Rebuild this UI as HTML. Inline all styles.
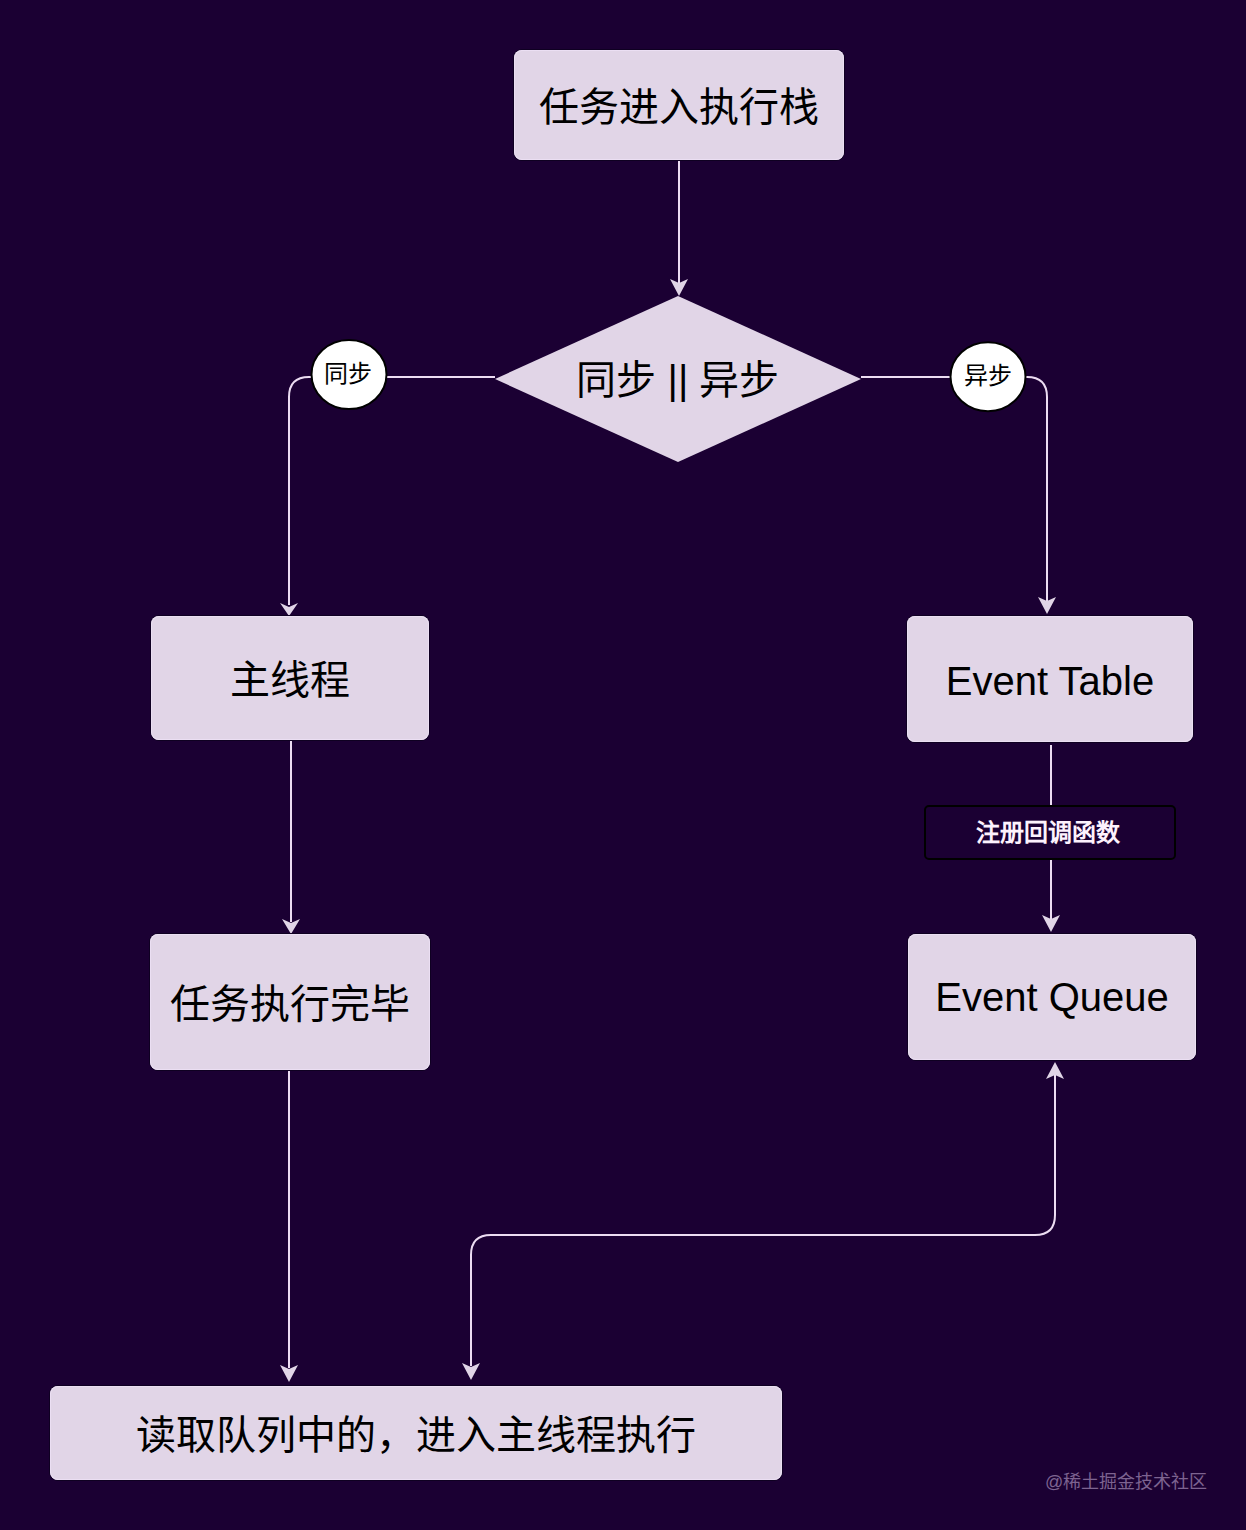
<!DOCTYPE html>
<html lang="zh-CN">
<head>
<meta charset="utf-8">
<style>
html,body{margin:0;padding:0;}
body{width:1246px;height:1530px;background:#1b0033;position:relative;overflow:hidden;font-family:"Liberation Sans",sans-serif;}
svg{position:absolute;left:0;top:0;}
.box{position:absolute;background:#e1d5e7;border-radius:8px;box-shadow:inset 0 0 0 1px #ebdff3,0 0 0 1px #0f0022;box-sizing:border-box;color:#000;display:flex;align-items:center;justify-content:center;font-size:40px;line-height:1;white-space:nowrap;padding-top:4px;}
.t{position:absolute;white-space:nowrap;line-height:1;}
</style>
</head>
<body>
<svg width="1246" height="1530" viewBox="0 0 1246 1530">
  <g fill="none" stroke="#ecdcf2" stroke-width="2">
    <path d="M679 160 V283"/>
    <path d="M495 377 H309 Q289 377 289 397 V605"/>
    <path d="M861 377 H1027 Q1047 377 1047 397 V602"/>
    <path d="M291 740 V922"/>
    <path d="M1051 745 V806 M1051 859 V920"/>
    <path d="M289 1070 V1368"/>
    <path d="M1055 1075 V1215 Q1055 1235 1035 1235 H491 Q471 1235 471 1255 V1366"/>
  </g>
  <polygon points="495,379 678,296 861,379 678,462" fill="#e1d5e7"/>
  <g fill="#e1d5e7">
    <path d="M679 296 L670 279 L679 283 L688 279 Z"/>
    <path d="M289 616 L280 603 L289 607 L298 603 Z"/>
    <path d="M1047 614 L1038 597 L1047 601 L1056 597 Z"/>
    <path d="M291 934 L282 919 L291 923 L300 919 Z"/>
    <path d="M1051 932 L1042 915 L1051 919 L1060 915 Z"/>
    <path d="M289 1382 L280 1365 L289 1369 L298 1365 Z"/>
    <path d="M471 1380 L462 1363 L471 1367 L480 1363 Z"/>
    <path d="M1055 1062 L1046 1079 L1055 1075 L1064 1079 Z"/>
  </g>
  <ellipse cx="349" cy="374.5" rx="37.5" ry="34.5" fill="#fff" stroke="#000" stroke-width="2"/>
  <ellipse cx="988" cy="376.7" rx="37.5" ry="34.5" fill="#fff" stroke="#000" stroke-width="2"/>
  <rect x="925" y="806" width="250" height="53" rx="4" fill="#1b0033" stroke="#000" stroke-width="2"/>
</svg>

<div class="box" style="left:514px;top:50px;width:330px;height:110px;">任务进入执行栈</div>
<div class="t" style="left:495px;top:360px;width:366px;text-align:center;font-size:40px;color:#000;">同步 || 异步</div>
<div class="t" style="left:310px;top:362px;width:75px;text-align:center;font-size:24px;color:#000;">同步</div>
<div class="t" style="left:950px;top:364px;width:75px;text-align:center;font-size:24px;color:#000;">异步</div>
<div class="box" style="left:151px;top:616px;width:278px;height:124px;">主线程</div>
<div class="box" style="left:907px;top:616px;width:286px;height:126px;">Event Table</div>
<div class="t" style="left:923px;top:821px;width:250px;text-align:center;font-size:24px;color:#fdf2fd;font-weight:600;">注册回调函数</div>
<div class="box" style="left:150px;top:934px;width:280px;height:136px;">任务执行完毕</div>
<div class="box" style="left:908px;top:934px;width:288px;height:126px;padding-top:0;">Event Queue</div>
<div class="box" style="left:50px;top:1386px;width:732px;height:94px;">读取队列中的，进入主线程执行</div>
<div class="t" style="left:1045px;top:1473px;font-size:18px;color:#7d6390;">@稀土掘金技术社区</div>
</body>
</html>
